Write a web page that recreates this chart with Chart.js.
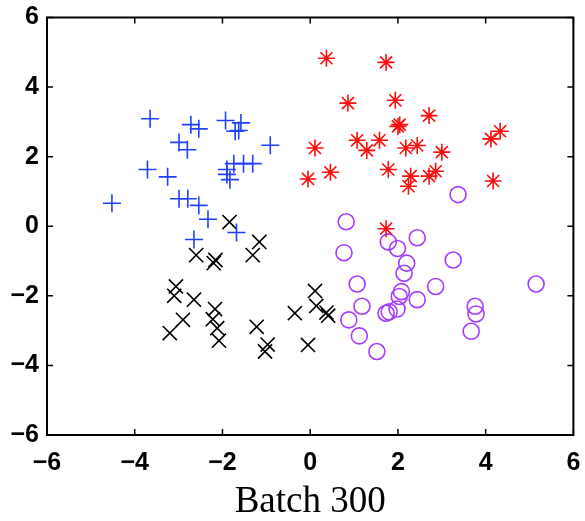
<!DOCTYPE html>
<html>
<head>
<meta charset="utf-8">
<script src="https://cdn.jsdelivr.net/npm/chart.js@4"></script>
<style>
  html, body { margin: 0; padding: 0; background: #fff; }
  #wrap { width: 585px; height: 521px; }
</style>
</head>
<body>
<div id="wrap"><canvas id="myChart" width="585" height="521"></canvas></div>
<script>
const tickValues = [-6, -4, -2, 0, 2, 4, 6];
const xTitle = "Batch 300";

// blue plus cluster
const plusX = [-3.65, -2.72, -2.54, -1.93, -1.58, -1.71, -1.63, -2.99, -2.80, -0.91, -3.71, -3.25, -1.90, -1.74, -1.52, -1.31, -1.90, -1.83, -4.52, -2.99, -2.79, -2.54, -2.33, -1.68, -2.65];
const plusY = [3.09, 2.92, 2.80, 3.04, 2.97, 2.73, 2.75, 2.41, 2.20, 2.33, 1.63, 1.42, 1.63, 1.80, 1.80, 1.80, 1.49, 1.34, 0.66, 0.79, 0.79, 0.60, 0.20, -0.18, -0.38];

// black cross cluster
const crossX = [-1.84, -1.16, -1.31, -2.60, -2.16, -2.20, -3.06, -3.10, -2.65, -2.17, -2.22, -2.90, -3.20, -2.12, -2.08, -1.22, -0.97, -1.03, -0.35, 0.11, 0.14, 0.37, 0.41, -0.05];
const crossY = [0.12, -0.45, -0.83, -0.83, -0.97, -1.06, -1.73, -2.00, -2.11, -2.38, -2.67, -2.69, -3.07, -2.93, -3.29, -2.89, -3.40, -3.60, -2.50, -1.86, -2.29, -2.48, -2.57, -3.41];

// red asterisk cluster
const starX = [0.37, 1.73, 0.86, 1.94, 2.71, 2.04, 2.00, 1.07, 1.29, 1.58, 2.18, 2.44, 3.00, 0.11, 4.12, 4.33, -0.05, 0.46, 1.78, 2.29, 2.24, 2.71, 2.86, 4.17, 1.73];
const starY = [4.83, 4.71, 3.54, 3.62, 3.18, 2.92, 2.87, 2.47, 2.18, 2.47, 2.25, 2.32, 2.13, 2.25, 2.51, 2.73, 1.36, 1.55, 1.63, 1.44, 1.15, 1.44, 1.58, 1.30, -0.07];

// purple circle cluster
const circleX = [3.37, 0.82, 0.77, 1.78, 1.99, 2.44, 3.26, 2.20, 2.14, 1.07, 2.86, 5.15, 2.08, 2.03, 2.44, 1.98, 1.80, 1.73, 1.18, 0.88, 1.12, 1.52, 3.76, 3.78, 3.67];
const circleY = [0.91, 0.13, -0.76, -0.45, -0.64, -0.33, -0.97, -1.06, -1.35, -1.66, -1.73, -1.66, -1.88, -2.02, -2.11, -2.38, -2.46, -2.50, -2.30, -2.69, -3.15, -3.60, -2.30, -2.52, -3.02];

const toPoints = (xs, ys) => xs.map((x, i) => ({ x: x, y: ys[i] }));

const canvasElement = document.getElementById("myChart");

//frame with inward ticks, like a matlab box
const boxPlugin = {
  id: "box",
  afterDraw(chart) {
    const ctx = chart.ctx;
    const a = chart.chartArea;
    const xs = chart.scales.x;
    const ys = chart.scales.y;
    const len = 6;
    ctx.save();
    ctx.strokeStyle = "#000";
    ctx.lineWidth = 2;
    ctx.strokeRect(a.left, a.top, a.right - a.left, a.bottom - a.top);
    ctx.beginPath();
    tickValues.forEach((v) => {
      const px = xs.getPixelForValue(v);
      ctx.moveTo(px, a.bottom);
      ctx.lineTo(px, a.bottom - len);
      ctx.moveTo(px, a.top);
      ctx.lineTo(px, a.top + len);
      const py = ys.getPixelForValue(v);
      ctx.moveTo(a.left, py);
      ctx.lineTo(a.left + len, py);
      ctx.moveTo(a.right, py);
      ctx.lineTo(a.right - len, py);
    });
    ctx.lineWidth = 1.5;
    ctx.stroke();
    ctx.restore();
  },
};

const tickFont = { family: "Liberation Sans", weight: "bold", size: 25 };
const minusSign = (v) => String(v).replace("-", "\u2212");

const data = {
  datasets: [
    {
      data: toPoints(plusX, plusY),
      pointStyle: "cross",
      pointRadius: 9,
      borderColor: "#2040ff",
      borderWidth: 1.6,
    },
    {
      data: toPoints(crossX, crossY),
      pointStyle: "crossRot",
      pointRadius: 10,
      borderColor: "#000000",
      borderWidth: 1.6,
    },
    {
      data: toPoints(starX, starY),
      pointStyle: "star",
      pointRadius: 8.5,
      borderColor: "#ff0c0c",
      borderWidth: 1.6,
    },
    {
      data: toPoints(circleX, circleY),
      pointStyle: "circle",
      pointRadius: 8,
      backgroundColor: "rgba(0,0,0,0)",
      borderColor: "#a43cff",
      borderWidth: 1.6,
    },
  ],
};

const config = {
  type: "scatter",
  data,
  plugins: [boxPlugin],
  options: {
    responsive: false,
    animation: false,
    layout: {
      padding: { top: 17.5, right: 8, left: 0, bottom: 0 },
    },
    scales: {
      x: {
        type: "linear",
        min: -6,
        max: 6,
        afterBuildTicks: (scale) => {
          scale.ticks = tickValues.map((v) => ({ value: v }));
        },
        afterFit: (scale) => {
          scale.height = 86;
          scale.paddingLeft = 0;
          scale.paddingRight = 0;
        },
        grid: { display: false, drawTicks: false },
        border: { display: false },
        ticks: {
          padding: 13,
          color: "#000",
          font: tickFont,
          callback: minusSign,
        },
        title: {
          display: true,
          text: xTitle,
          color: "#000",
          font: { family: "Liberation Serif", size: 37, lineHeight: 1 },
          padding: { top: 0, bottom: 0 },
        },
      },
      y: {
        type: "linear",
        min: -6,
        max: 6,
        afterBuildTicks: (scale) => {
          scale.ticks = tickValues.map((v) => ({ value: v }));
        },
        afterFit: (scale) => {
          scale.width = 47;
          scale.paddingTop = 0;
          scale.paddingBottom = 0;
        },
        grid: { display: false, drawTicks: false },
        border: { display: false },
        ticks: {
          padding: 8,
          color: "#000",
          font: tickFont,
          callback: minusSign,
        },
      },
    },
    plugins: {
      legend: { display: false },
      tooltip: { enabled: false },
    },
  },
};

//create chart
const myChart = new Chart(canvasElement, config);
</script>
</body>
</html>
